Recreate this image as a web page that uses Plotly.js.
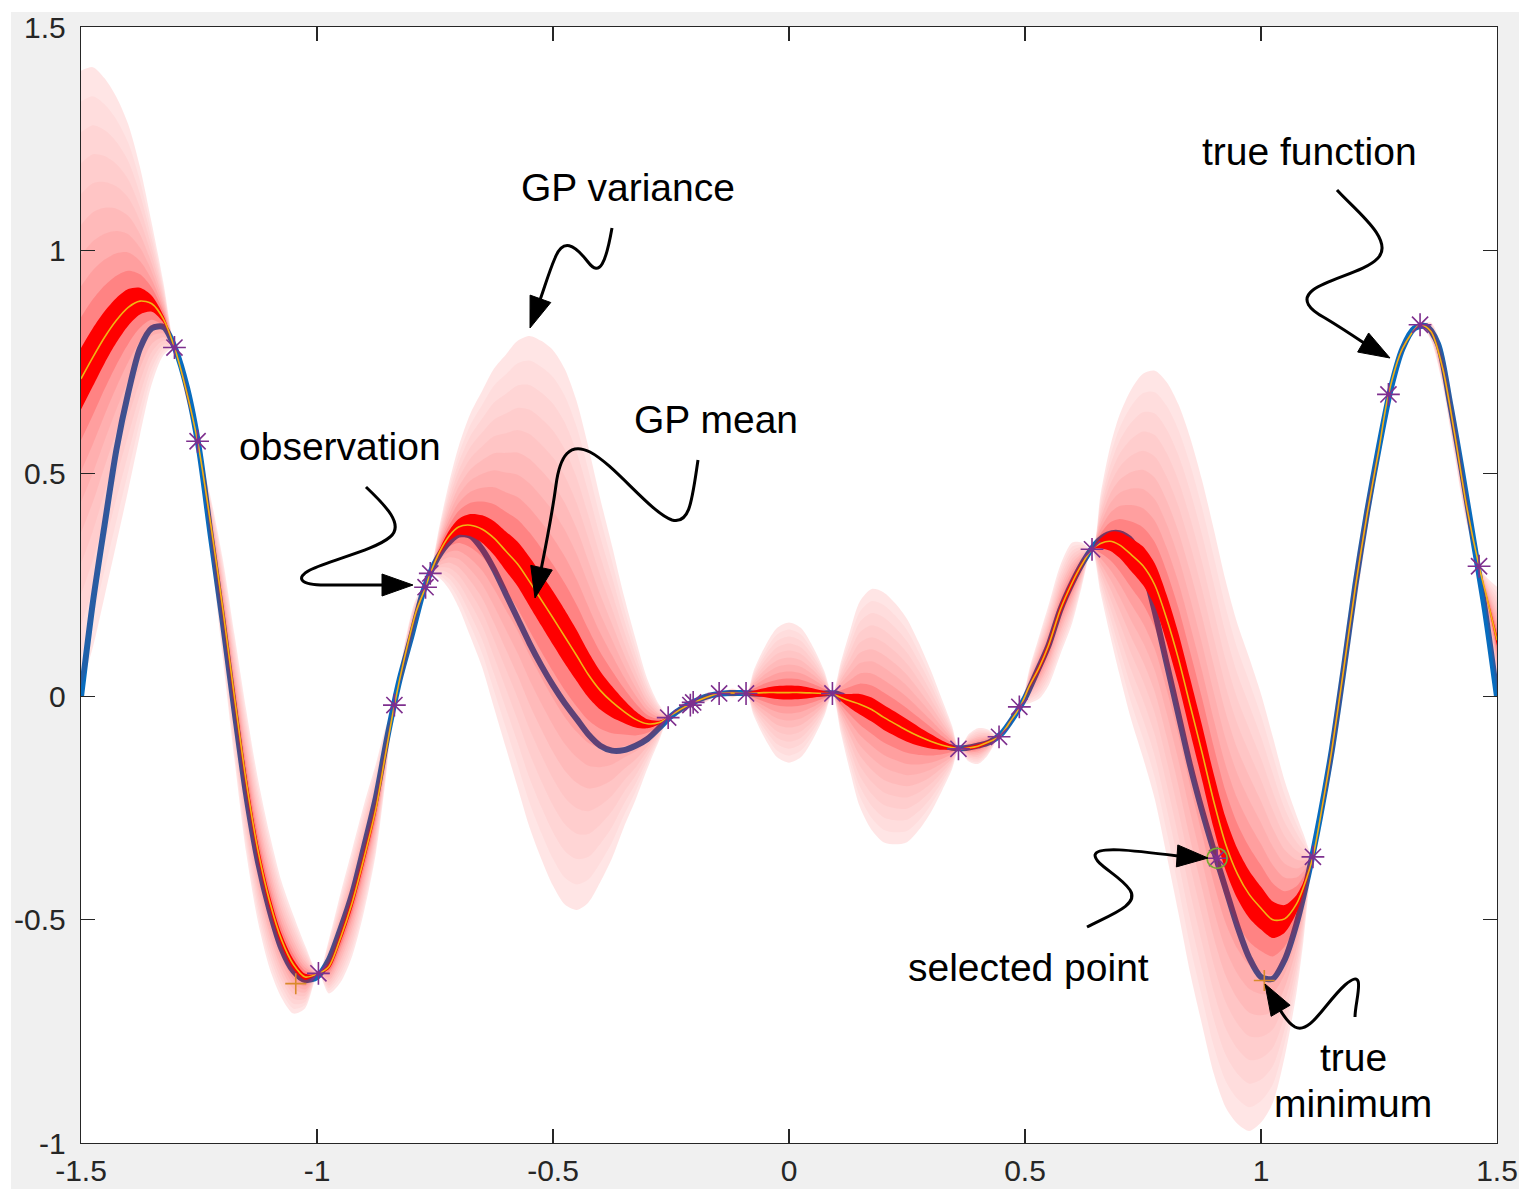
<!DOCTYPE html>
<html>
<head>
<meta charset="utf-8">
<script src="https://cdn.plot.ly/plotly-3.0.1.min.js"></script>
<style>html,body{margin:0;padding:0;background:#fff;}#chart{width:1519px;height:1189px;}</style>
</head>
<body>
<div id="chart"></div>
<script>
// ---------------- data ----------------
const xTickVals = [-1.5, -1, -0.5, 0, 0.5, 1, 1.5];
const xTickText = ['-1.5', '-1', '-0.5', '0', '0.5', '1', '1.5'];
const yTickVals = [-1, -0.5, 0, 0.5, 1, 1.5];
const yTickText = ['-1', '-0.5', '0', '0.5', '1', '1.5'];

// true function
const trueX = [-1.5,-1.475,-1.45,-1.425,-1.4,-1.375,-1.35,-1.325,-1.3,-1.275,-1.25,-1.225,-1.2,-1.175,-1.15,-1.125,-1.1,-1.075,-1.05,-1.025,-1.0,-0.975,-0.95,-0.925,-0.9,-0.875,-0.85,-0.825,-0.8,-0.775,-0.75,-0.725,-0.7,-0.675,-0.65,-0.625,-0.6,-0.575,-0.55,-0.525,-0.5,-0.475,-0.45,-0.425,-0.4,-0.375,-0.35,-0.325,-0.3,-0.275,-0.25,-0.225,-0.2,-0.175,-0.15,-0.125,-0.1,-0.075,-0.05,-0.025,0.0,0.025,0.05,0.075,0.1,0.125,0.15,0.175,0.2,0.225,0.25,0.275,0.3,0.325,0.35,0.375,0.4,0.425,0.45,0.475,0.5,0.525,0.55,0.575,0.6,0.625,0.65,0.675,0.7,0.725,0.75,0.775,0.8,0.825,0.85,0.875,0.9,0.925,0.95,0.975,1.0,1.025,1.05,1.075,1.1,1.125,1.15,1.175,1.2,1.225,1.25,1.275,1.3,1.325,1.35,1.375,1.4,1.425,1.45,1.475,1.5];
const trueY = [0.000,0.210,0.385,0.553,0.680,0.780,0.825,0.828,0.778,0.690,0.555,0.360,0.170,-0.030,-0.220,-0.370,-0.480,-0.565,-0.615,-0.635,-0.628,-0.590,-0.520,-0.440,-0.335,-0.225,-0.085,0.038,0.135,0.235,0.300,0.340,0.363,0.360,0.330,0.285,0.230,0.175,0.120,0.070,0.025,-0.015,-0.050,-0.085,-0.110,-0.121,-0.120,-0.110,-0.095,-0.070,-0.044,-0.025,-0.011,0.000,0.006,0.008,0.008,0.007,0.006,0.005,0.005,0.005,0.006,0.007,0.007,-0.004,-0.015,-0.028,-0.046,-0.061,-0.076,-0.089,-0.100,-0.109,-0.115,-0.115,-0.110,-0.102,-0.083,-0.047,-0.003,0.055,0.115,0.195,0.255,0.305,0.343,0.363,0.366,0.350,0.290,0.190,0.075,-0.040,-0.155,-0.255,-0.345,-0.430,-0.515,-0.585,-0.628,-0.632,-0.590,-0.510,-0.400,-0.270,-0.120,0.060,0.250,0.415,0.560,0.690,0.780,0.825,0.830,0.790,0.660,0.510,0.350,0.190,0.000];

// GP posterior: mean and standard deviation
const gpX = [-1.5,-1.475,-1.45,-1.425,-1.4,-1.375,-1.35,-1.325,-1.302,-1.278,-1.253,-1.225,-1.2,-1.175,-1.15,-1.125,-1.1,-1.075,-1.05,-1.025,-0.997,-0.975,-0.95,-0.925,-0.9,-0.875,-0.855,-0.836,-0.815,-0.79,-0.77,-0.76,-0.74,-0.72,-0.7,-0.675,-0.65,-0.625,-0.6,-0.575,-0.55,-0.525,-0.5,-0.475,-0.45,-0.425,-0.4,-0.375,-0.35,-0.325,-0.3,-0.275,-0.253,-0.229,-0.205,-0.176,-0.148,-0.12,-0.091,-0.075,-0.05,-0.025,0.0,0.025,0.05,0.075,0.092,0.11,0.13,0.15,0.175,0.2,0.225,0.25,0.275,0.3,0.325,0.345,0.361,0.38,0.4,0.42,0.446,0.468,0.49,0.51,0.53,0.55,0.575,0.6,0.62,0.642,0.66,0.68,0.7,0.725,0.75,0.775,0.8,0.825,0.85,0.875,0.9,0.925,0.95,0.975,1.0,1.025,1.05,1.075,1.09,1.11,1.13,1.15,1.175,1.2,1.225,1.25,1.27,1.3,1.337,1.36,1.385,1.41,1.435,1.462,1.48,1.5];
const gpMean = [0.712,0.760,0.805,0.843,0.872,0.886,0.880,0.845,0.782,0.690,0.572,0.385,0.200,0.000,-0.190,-0.345,-0.460,-0.545,-0.600,-0.628,-0.620,-0.605,-0.540,-0.460,-0.360,-0.250,-0.130,-0.019,0.085,0.190,0.245,0.276,0.325,0.360,0.380,0.384,0.375,0.355,0.326,0.297,0.258,0.217,0.176,0.134,0.092,0.049,0.014,-0.012,-0.033,-0.051,-0.061,-0.058,-0.044,-0.028,-0.015,-0.002,0.007,0.008,0.007,0.008,0.009,0.009,0.009,0.009,0.008,0.007,0.006,-0.002,-0.010,-0.017,-0.029,-0.046,-0.061,-0.076,-0.089,-0.100,-0.109,-0.114,-0.117,-0.115,-0.111,-0.103,-0.089,-0.057,-0.022,0.025,0.065,0.115,0.195,0.255,0.295,0.330,0.343,0.348,0.340,0.318,0.293,0.250,0.175,0.085,-0.020,-0.125,-0.235,-0.330,-0.397,-0.443,-0.474,-0.500,-0.498,-0.465,-0.427,-0.359,-0.245,-0.120,0.060,0.245,0.410,0.555,0.677,0.780,0.833,0.818,0.735,0.590,0.430,0.292,0.215,0.126];
const gpStd = [0.069,0.065,0.058,0.050,0.041,0.030,0.018,0.008,0.000,0.002,0.000,0.006,0.011,0.014,0.016,0.016,0.015,0.013,0.011,0.007,0.000,0.006,0.010,0.012,0.012,0.010,0.006,0.000,0.003,0.003,0.000,0.000,0.006,0.012,0.018,0.025,0.031,0.038,0.044,0.050,0.055,0.058,0.060,0.060,0.057,0.051,0.043,0.035,0.026,0.018,0.010,0.004,0.000,0.001,0.000,0.001,0.000,0.001,0.000,0.005,0.0105,0.0145,0.0157,0.0145,0.0105,0.005,0.000,0.008,0.016,0.023,0.027,0.028,0.027,0.025,0.021,0.016,0.010,0.005,0.000,0.003,0.004,0.003,0.000,0.001,0.000,0.004,0.007,0.009,0.010,0.009,0.005,0.000,0.011,0.021,0.029,0.037,0.043,0.048,0.053,0.057,0.060,0.061,0.061,0.059,0.056,0.053,0.048,0.041,0.031,0.020,0.012,0.000,0.002,0.004,0.005,0.005,0.004,0.002,0.000,0.001,0.000,0.002,0.004,0.005,0.004,0.000,0.005,0.012];
const bandLevels = [1, 2, 3, 4, 5, 6, 7, 8, 9, 10];

// observations
const obsX = [-1.302,-1.253,-0.997,-0.836,-0.770,-0.760,-0.256,-0.209,-0.203,-0.148,-0.091,0.092,0.359,0.445,0.488,0.642,0.907,1.110,1.270,1.337,1.462];
const obsY = [0.782,0.572,-0.620,-0.019,0.245,0.276,-0.047,-0.019,-0.013,0.007,0.007,0.007,-0.117,-0.090,-0.023,0.330,-0.362,-0.359,0.677,0.833,0.292];
const selectedX = [0.907];
const selectedY = [-0.362];
const minimumX = [1.007, -1.045];
const minimumY = [-0.636, -0.643];

// ---------------- geometry helpers (layout positions only) ----------------
const W = 1519, H = 1189;
const M = {l: 81, r: 22, t: 27, b: 46};
const PW = W - M.l - M.r, PH = H - M.t - M.b;
const XR = [-1.5, 1.5], YR = [-1, 1.5];
const px2x = p => XR[0] + (p - M.l) / PW * (XR[1] - XR[0]);
const py2y = p => YR[1] - (p - M.t) / PH * (YR[1] - YR[0]);

function pathFromPixels(str) {
  const tok = str.trim().split(/\s+/);
  let out = [], nums = [];
  tok.forEach(t => {
    if (/^[A-Za-z]$/.test(t)) { out.push(t); }
    else { nums.push(+t); if (nums.length === 2) { out.push(px2x(nums[0]).toFixed(5) + ',' + py2y(nums[1]).toFixed(5)); nums = []; } }
  });
  return out.join(' ');
}
function headFromPixels(tx, ty, fx, fy, len, hw) {
  const dx = tx - fx, dy = ty - fy, d = Math.hypot(dx, dy);
  const ux = dx / d, uy = dy / d;
  const bx = tx - ux * len, by = ty - uy * len;
  const p1 = [bx - uy * hw, by + ux * hw], p2 = [bx + uy * hw, by - ux * hw];
  return pathFromPixels(`M ${tx} ${ty} L ${p1[0]} ${p1[1]} L ${p2[0]} ${p2[1]} Z`);
}

// ---------------- traces ----------------
const traces = [];
traces.push({x: trueX, y: trueY, mode: 'lines', line: {color: '#086cbe', width: 6, shape: 'spline', smoothing: 0.8}, hoverinfo: 'skip', showlegend: false});

// band opacities (cumulative target per ring, innermost first)
const ringOpacity = [1.0, 0.47, 0.36, 0.30, 0.26, 0.22, 0.19, 0.16, 0.13, 0.10];
for (let i = bandLevels.length - 1; i >= 0; i--) {
  const k = bandLevels[i];
  const keepOuter = i === bandLevels.length - 1 ? 1 : 1 - ringOpacity[i + 1];
  const a = 1 - (1 - ringOpacity[i]) / keepOuter;
  traces.push({x: gpX, y: gpMean.map((m, j) => m - k * gpStd[j]), mode: 'lines', line: {width: 0, shape: 'spline', smoothing: 0.8}, hoverinfo: 'skip', showlegend: false});
  traces.push({x: gpX, y: gpMean.map((m, j) => m + k * gpStd[j]), mode: 'lines', fill: 'tonexty', fillcolor: `rgba(255,0,0,${a.toFixed(4)})`, line: {width: 0, shape: 'spline', smoothing: 0.8}, hoverinfo: 'skip', showlegend: false});
}
traces.push({x: gpX, y: gpMean, mode: 'lines', line: {color: '#F0B414', width: 1.6, shape: 'spline', smoothing: 0.8}, hoverinfo: 'skip', showlegend: false});
traces.push({x: minimumX, y: minimumY, mode: 'markers', marker: {symbol: 'cross-thin-open', size: 15, color: '#D98A2B', line: {color: '#D98A2B', width: 1.6}}, hoverinfo: 'skip', showlegend: false});
traces.push({x: obsX, y: obsY, mode: 'markers', marker: {symbol: 'asterisk-open', size: 19, color: '#7E2F8E', line: {color: '#7E2F8E', width: 1.6}}, hoverinfo: 'skip', showlegend: false});
traces.push({x: selectedX, y: selectedY, mode: 'markers', marker: {symbol: 'circle-open', size: 20, color: '#77AC30', line: {color: '#77AC30', width: 1.6}}, hoverinfo: 'skip', showlegend: false});

// ---------------- annotations (arrows + labels) ----------------
const arrows = [
  {p: 'M 612 228 C 606 262 600 278 588 262 C 574 244 563 238 555 258 C 549 272 545 286 540 300', tip: [530, 328]},
  {p: 'M 698 460 C 692 500 690 525 672 520 C 650 512 615 465 590 452 C 570 442 560 455 556 485 C 552 515 546 545 541 570', tip: [535, 598]},
  {p: 'M 366 487 C 385 505 405 525 390 537 C 375 550 330 560 310 570 C 295 578 300 585 325 585 L 384 585', tip: [413, 585]},
  {p: 'M 1337 190 C 1355 210 1395 240 1378 258 C 1365 272 1330 278 1313 290 C 1300 300 1310 310 1325 318 C 1340 327 1352 335 1364 343', tip: [1390, 358]},
  {p: 'M 1087 927 C 1110 915 1140 905 1130 890 C 1120 875 1095 865 1095 855 C 1097 846 1130 850 1178 856', tip: [1208, 858]},
  {p: 'M 1355 1017 C 1355 1000 1368 965 1345 985 C 1325 1003 1310 1035 1295 1027 C 1288 1023 1283 1015 1279 1008', tip: [1265, 984]}
];
const shapes = [
  {type: 'rect', xref: 'paper', yref: 'paper', x0: -M.l / PW, x1: (11 - M.l) / PW, y0: -M.b / PH, y1: (H - M.b) / PH, fillcolor: '#ffffff', line: {width: 0}, layer: 'below'},
  {type: 'rect', xref: 'paper', yref: 'paper', x0: -M.l / PW, x1: (W - M.l) / PW, y0: (H - M.b - 12) / PH, y1: (H - M.b) / PH, fillcolor: '#ffffff', line: {width: 0}, layer: 'below'}
];
arrows.forEach(a => {
  const nums = a.p.trim().split(/\s+/).filter(t => !/^[A-Za-z]$/.test(t)).map(Number);
  const fx = nums[nums.length - 2], fy = nums[nums.length - 1];
  shapes.push({type: 'path', xref: 'x', yref: 'y', path: pathFromPixels(a.p), line: {color: '#000', width: 3}, layer: 'above'});
  shapes.push({type: 'path', xref: 'x', yref: 'y', path: headFromPixels(a.tip[0], a.tip[1], fx, fy, 31, 11), fillcolor: '#000', line: {color: '#000', width: 1}, layer: 'above'});
});

const labels = [
  {t: 'GP variance', x: 628, y: 187},
  {t: 'GP mean', x: 716, y: 419},
  {t: 'observation', x: 340, y: 446},
  {t: 'true function', x: 1309, y: 151},
  {t: 'selected point', x: 1028, y: 967},
  {t: 'true', x: 1353, y: 1057},
  {t: 'minimum', x: 1353, y: 1103}
];
const annotations = labels.map(l => ({
  text: l.t, x: px2x(l.x), y: py2y(l.y), xref: 'x', yref: 'y', showarrow: false,
  xanchor: 'center', yanchor: 'middle', font: {family: 'Liberation Sans, Arial, sans-serif', size: 39, color: '#000'}
}));

const axisCommon = {
  showgrid: false, zeroline: false, showline: true, linecolor: '#262626', linewidth: 1.2, mirror: 'ticks',
  ticks: 'inside', ticklen: 14, tickwidth: 1.2, tickcolor: '#262626',
  tickfont: {family: 'Liberation Sans, Arial, sans-serif', size: 30, color: '#262626'}
};

const layout = {
  width: W, height: H, autosize: false,
  margin: {l: M.l, r: M.r, t: M.t, b: M.b, pad: 0},
  paper_bgcolor: '#f0f0f0', plot_bgcolor: '#ffffff',
  showlegend: false,
  xaxis: Object.assign({}, axisCommon, {range: XR, tickmode: 'array', tickvals: xTickVals, ticktext: xTickText, ticklabelstandoff: 1}),
  yaxis: Object.assign({}, axisCommon, {range: YR, tickmode: 'array', tickvals: yTickVals, ticktext: yTickText, ticklabelstandoff: 8}),
  shapes: shapes,
  annotations: annotations
};

Plotly.newPlot('chart', traces, layout, {staticPlot: true, displayModeBar: false});
</script>
</body>
</html>
